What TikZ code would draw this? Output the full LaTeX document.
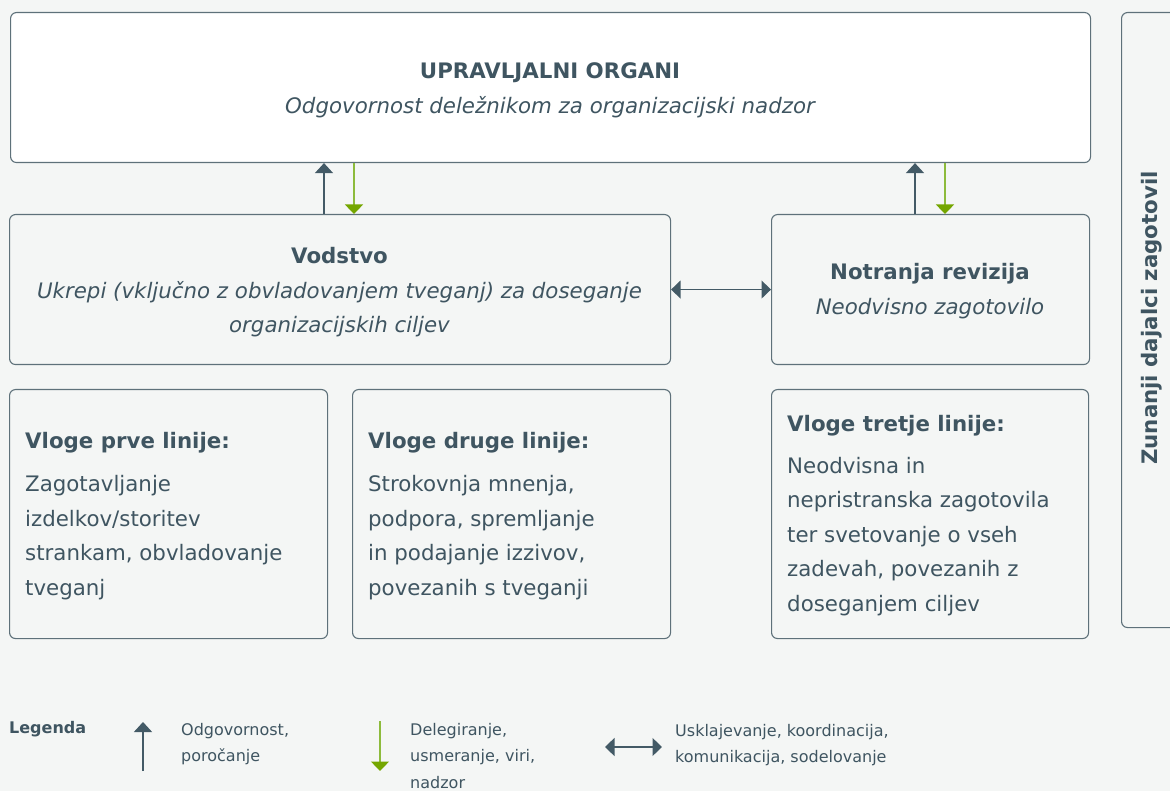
\documentclass[tikz,border=0pt]{standalone}
\usepackage{fontspec}
\setmainfont{DejaVu Sans}
\usetikzlibrary{arrows.meta}
\definecolor{bg}{HTML}{F4F6F5}
\definecolor{txt}{HTML}{3F5561}
\definecolor{bord}{HTML}{5E717A}
\definecolor{arr}{HTML}{435A66}
\definecolor{grl}{HTML}{8DBB3C}
\definecolor{grh}{HTML}{74A600}
\begin{document}
\begin{tikzpicture}[x=1pt,y=-1pt,
  box/.style={draw=bord, line width=1.1pt, rounded corners=6pt, inner sep=0pt, anchor=north west, fill=bg},
  big/.style={font=\fontsize{21.33}{34.6}\selectfont, text=txt, inner sep=0pt},
  bigb/.style={font=\bfseries\fontsize{21.33}{34.6}\selectfont, text=txt, inner sep=0pt},
  bigi/.style={font=\itshape\fontsize{21.33}{34.6}\selectfont, text=txt, inner sep=0pt},
  small/.style={font=\fontsize{16}{26.5}\selectfont, text=txt, inner sep=0pt, anchor=base west},
  uparr/.style={draw=arr, line width=1.3pt, -{Triangle[width=18pt,length=10pt,color=arr,fill=arr]}},
  dnarr/.style={draw=grl, line width=1.3pt, -{Triangle[width=18pt,length=9.5pt,color=grh,fill=grh]}},
  dblarr/.style={draw=arr, line width=1.3pt, {Triangle[width=18pt,length=9.5pt,color=arr,fill=arr]}-{Triangle[width=18pt,length=9.5pt,color=arr,fill=arr]}}
]
\useasboundingbox (0,0) rectangle (1170,791);
\clip (0,0) rectangle (1170,791);
\fill[bg] (0,0) rectangle (1170,791);

% boxes
\node[box, fill=white, minimum width=1080pt, minimum height=150pt] (top) at (10,12) {};
\node[box, minimum width=661pt, minimum height=150pt] (vod) at (9,214) {};
\node[box, minimum width=318pt, minimum height=150pt] (nr) at (771,214) {};
\node[box, minimum width=318pt, minimum height=249pt] (b1) at (9,389) {};
\node[box, minimum width=318pt, minimum height=249pt] (b2) at (352,389) {};
\node[box, minimum width=317pt, minimum height=249pt] (b3) at (771,389) {};
\node[box, minimum width=80pt, minimum height=615pt] (ext) at (1121,12) {};

% top box texts
\node[bigb, anchor=base] (topt) at (550,78.3) {UPRAVLJALNI ORGANI};
\node[bigi, anchor=base] (tops) at (550,113.3) {Odgovornost deležnikom za organizacijski nadzor};

% Vodstvo texts
\node[bigb, anchor=base] (vodt) at (339.5,263.3) {Vodstvo};
\node[bigi, anchor=base] (vods1) at (339.5,298.3) {Ukrepi (vključno z obvladovanjem tveganj) za doseganje};
\node[bigi, anchor=base] (vods2) at (339.5,332.9) {organizacijskih ciljev};

% Notranja revizija texts
\node[bigb, anchor=base] (nrt) at (930,279.3) {Notranja revizija};
\node[bigi, anchor=base] (nrs) at (930,314.3) {Neodvisno zagotovilo};

% Box 1
\node[bigb, anchor=base west] (b1t) at (25,448) {Vloge prve linije:};
\foreach \t [count=\i] in {Zagotavljanje, izdelkov/storitev, {strankam, obvladovanje}, tveganj}
  \node[big, anchor=base west] (b1l\i) at (25,{491.5+34.6*(\i-1)}) {\t};

% Box 2
\node[bigb, anchor=base west] (b2t) at (368,448) {Vloge druge linije:};
\foreach \t [count=\i] in {{Strokovnja mnenja,}, {podpora, spremljanje}, {in podajanje izzivov,}, {povezanih s tveganji}}
  \node[big, anchor=base west] (b2l\i) at (368,{491.5+34.6*(\i-1)}) {\t};

% Box 3
\node[bigb, anchor=base west] (b3t) at (787,431.5) {Vloge tretje linije:};
\foreach \t [count=\i] in {Neodvisna in, nepristranska zagotovila, ter svetovanje o vseh, {zadevah, povezanih z}, doseganjem ciljev}
  \node[big, anchor=base west] (b3l\i) at (787,{473+34.6*(\i-1)}) {\t};

% external box text
\node[bigb, rotate=90] (extt) at (1152,318) {Zunanji dajalci zagotovil};

% connectors
\coordinate (a1) at (324,0);
\coordinate (a2) at (354,0);
\coordinate (a3) at (915,0);
\coordinate (a4) at (945,0);
\draw[uparr] (vod.north -| a1) -- (top.south -| a1);
\draw[dnarr] (top.south -| a2) -- (vod.north -| a2);
\draw[uparr] (nr.north -| a3) -- (top.south -| a3);
\draw[dnarr] (top.south -| a4) -- (nr.north -| a4);
\draw[dblarr] (vod.east) -- (nr.west);

% legend
\node[small, font=\bfseries\fontsize{16}{26.5}\selectfont] (leg) at (9,733) {Legenda};
\coordinate (l1b) at (143,771);
\coordinate (l1t) at (143,722);
\draw[uparr] (l1b) -- (l1t);
\node[small] (l1a) at (181,735) {Odgovornost,};
\node[small] (l1c) at (181,761.5) {poročanje};
\coordinate (l2t) at (380,721);
\coordinate (l2b) at (380,771);
\draw[dnarr] (l2t) -- (l2b);
\node[small] (l2a) at (410,735) {Delegiranje,};
\node[small] (l2c) at (410,761.5) {usmeranje, viri,};
\node[small] (l2d) at (410,788) {nadzor};
\coordinate (l3l) at (605,747);
\coordinate (l3r) at (662,747);
\draw[dblarr] (l3l) -- (l3r);
\node[small] (l3a) at (675,736) {Usklajevanje, koordinacija,};
\node[small] (l3c) at (675,762) {komunikacija, sodelovanje};
\end{tikzpicture}
\end{document}
